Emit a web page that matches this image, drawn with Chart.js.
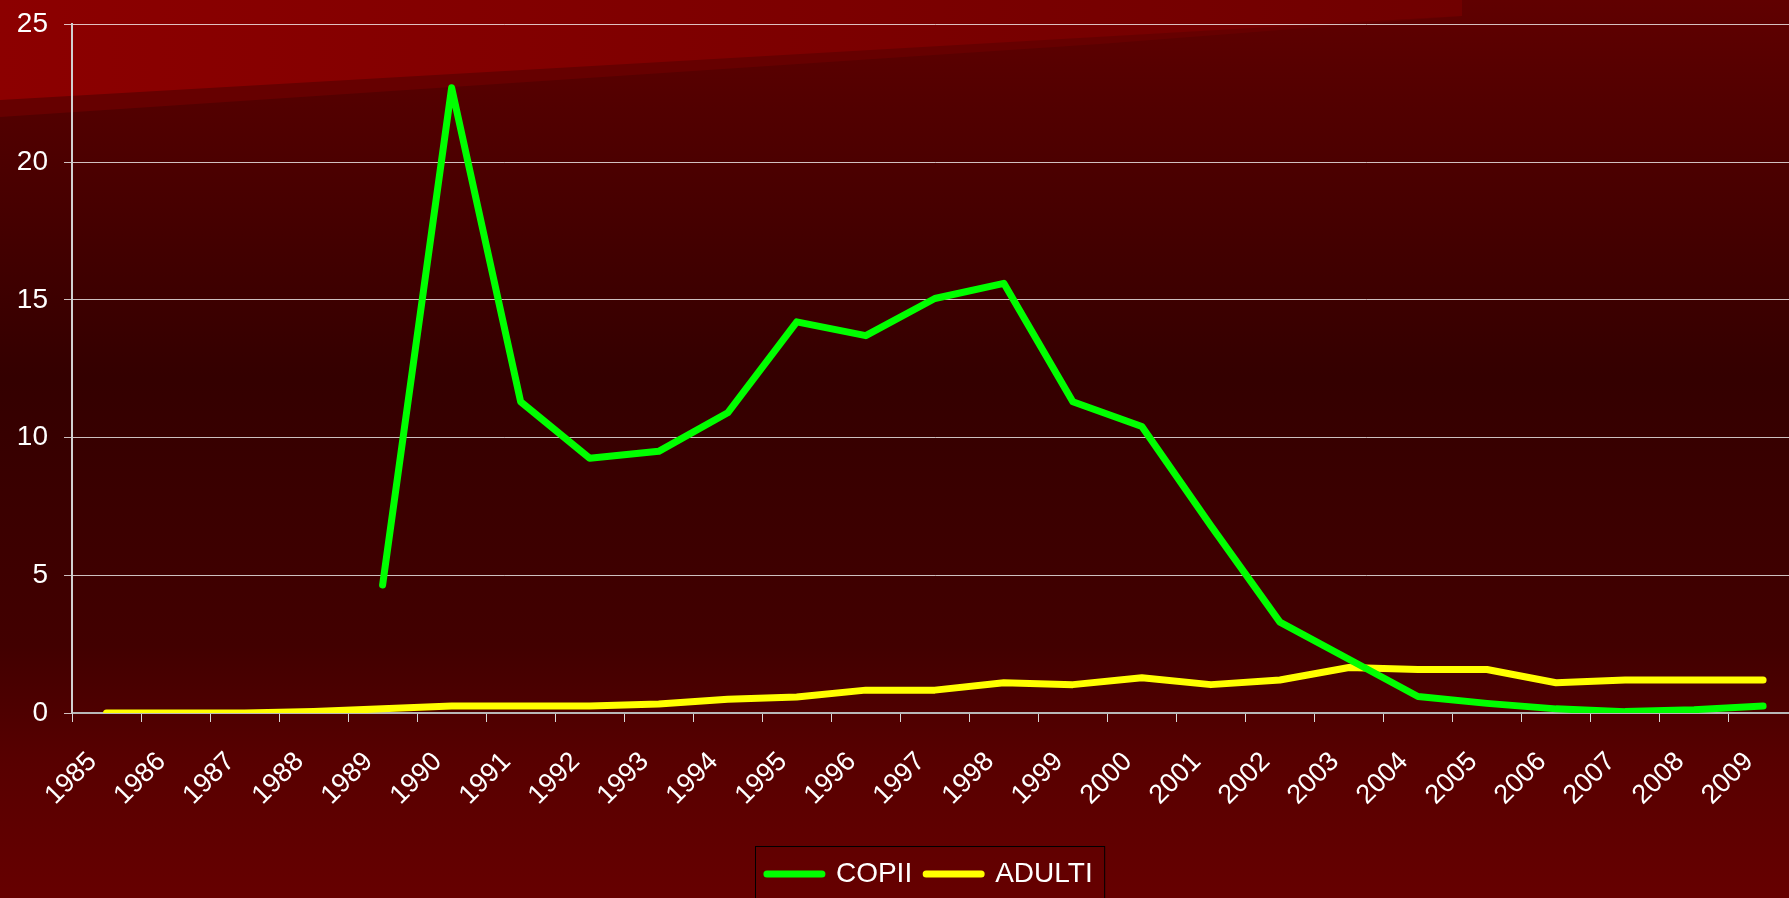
<!DOCTYPE html>
<html>
<head>
<meta charset="utf-8">
<script src="https://cdn.jsdelivr.net/npm/chart.js@4.4.1/dist/chart.umd.min.js"></script>
<style>
  html, body { margin: 0; padding: 0; overflow: hidden; background: #5a0000; }
  #wrap { width: 1810px; height: 898px; }
</style>
</head>
<body>
<div id="wrap"><canvas id="chart"></canvas></div>
<script>
const years = ['1985', '1986', '1987', '1988', '1989', '1990', '1991', '1992', '1993', '1994',
  '1995', '1996', '1997', '1998', '1999', '2000', '2001', '2002', '2003', '2004',
  '2005', '2006', '2007', '2008', '2009'];
const copii = [null, null, null, null, 4.65, 22.7, 11.3, 9.25, 9.5, 10.9,
  14.2, 13.7, 15.05, 15.6, 11.3, 10.4, 6.8, 3.3, 1.95, 0.6,
  0.35, 0.15, 0.05, 0.12, 0.25];
const adulti = [0, 0, 0, 0.05, 0.15, 0.25, 0.25, 0.25, 0.33, 0.5,
  0.58, 0.83, 0.83, 1.1, 1.03, 1.28, 1.03, 1.2, 1.65, 1.58,
  1.58, 1.1, 1.2, 1.2, 1.2];
const yTicks = [0, 5, 10, 15, 20, 25];

// slide-style background: dark red gradient with a bright slanted band top-left
const backdrop = {
  id: 'backdrop',
  beforeDraw(chart) {
    const { ctx, width, height } = chart;
    ctx.save();
    const g = ctx.createLinearGradient(0, 0, 0, height);
    g.addColorStop(0, '#600000');
    g.addColorStop(0.12, '#520000');
    g.addColorStop(0.42, '#340000');
    g.addColorStop(0.72, '#420000');
    g.addColorStop(0.85, '#580000');
    g.addColorStop(1, '#660000');
    ctx.fillStyle = g;
    ctx.fillRect(0, 0, width, height);

    ctx.fillStyle = '#660000';
    ctx.beginPath();
    ctx.moveTo(0, 98);
    ctx.lineTo(1462, 16);
    ctx.lineTo(1100, 44);
    ctx.lineTo(0, 117);
    ctx.closePath();
    ctx.fill();

    const h = ctx.createLinearGradient(0, 0, 1462, 0);
    h.addColorStop(0, '#8c0000');
    h.addColorStop(1, '#700000');
    ctx.fillStyle = h;
    ctx.beginPath();
    ctx.moveTo(0, 0);
    ctx.lineTo(1462, 0);
    ctx.lineTo(1462, 16);
    ctx.lineTo(0, 100);
    ctx.closePath();
    ctx.fill();
    ctx.restore();
  }
};

// nudge the legend a little left and frame it in black
const legendFrame = {
  id: 'legendFrame',
  afterLayout(chart) {
    chart.legend.left -= 5;
    chart.legend.right -= 5;
  },
  afterDraw(chart) {
    const boxes = chart.legend.legendHitBoxes;
    if (!boxes || !boxes.length) return;
    const first = boxes[0];
    const last = boxes[boxes.length - 1];
    const ctx = chart.ctx;
    ctx.save();
    ctx.strokeStyle = '#000000';
    ctx.lineWidth = 1;
    const left = Math.round(first.left - 12) + 0.5;
    const top = Math.round(first.top - 14) + 0.5;
    ctx.strokeRect(left, top, last.left + last.width + 12 - left, 80);
    ctx.restore();
  }
};

new Chart(document.getElementById('chart'), {
  type: 'line',
  data: {
    labels: years,
    datasets: [
      {
        label: 'COPII',
        data: copii,
        borderColor: '#00ff00',
        backgroundColor: '#00ff00',
        borderWidth: 7,
        borderJoinStyle: 'round',
        borderCapStyle: 'round',
        pointRadius: 0,
        tension: 0
      },
      {
        label: 'ADULTI',
        data: adulti,
        borderColor: '#ffff00',
        backgroundColor: '#ffff00',
        borderWidth: 7,
        borderJoinStyle: 'round',
        borderCapStyle: 'round',
        pointRadius: 0,
        tension: 0
      }
    ]
  },
  options: {
    responsive: true,
    maintainAspectRatio: false,
    animation: false,
    layout: { padding: { top: 24, right: 0, bottom: 0, left: 0 } },
    scales: {
      x: {
        offset: true,
        grid: {
          offset: true,
          drawOnChartArea: false,
          drawTicks: true,
          tickLength: 9,
          color: '#d8d8d8'
        },
        border: { color: '#b8b8b8', width: 2 },
        ticks: {
          color: '#ffffff',
          font: { family: 'Liberation Sans', size: 27 },
          minRotation: 45,
          maxRotation: 45,
          autoSkip: false,
          padding: 24,
          labelOffset: -14
        },
        afterFit(scale) { scale.height = 133; }
      },
      y: {
        min: 0,
        max: 25,
        afterBuildTicks(scale) { scale.ticks = yTicks.map(v => ({ value: v })); },
        grid: {
          color: 'rgba(255,255,255,0.75)',
          tickLength: 8,
          lineWidth: 1
        },
        border: { color: '#d0d0d0', width: 2 },
        ticks: {
          color: '#ffffff',
          font: { family: 'Liberation Sans', size: 28, lineHeight: 0.6 },
          padding: 16
        },
        afterFit(scale) { scale.width = 72; }
      }
    },
    plugins: {
      legend: {
        position: 'bottom',
        fullSize: false,
        labels: {
          color: '#ffffff',
          font: { family: 'Liberation Sans', size: 28 },
          boxWidth: 55,
          boxHeight: 0,
          padding: 14
        }
      },
      tooltip: { enabled: false }
    }
  },
  plugins: [backdrop, legendFrame]
});
</script>
</body>
</html>
